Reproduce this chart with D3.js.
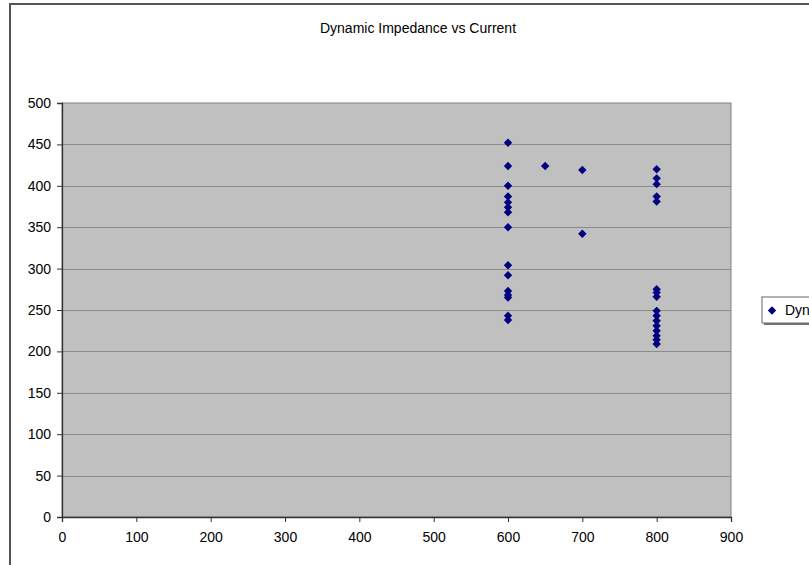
<!DOCTYPE html>
<html>
<head>
<meta charset="utf-8">
<script src="https://cdn.jsdelivr.net/npm/d3@7/dist/d3.min.js"></script>
<style>
  html, body { margin: 0; padding: 0; background: #fff; overflow: hidden; }
  svg { display: block; font-family: "Liberation Sans", Arial, sans-serif; }
</style>
</head>
<body>
<svg id="chart" width="809" height="565"></svg>
<script>
// Measured current (mA) and dynamic impedance (ohm)
const currents = [
  600, 600, 600, 600, 600, 600, 600, 600, 600, 600, 600, 600, 600, 600, 600,
  650,
  700, 700,
  800, 800, 800, 800, 800, 800, 800, 800, 800, 800, 800, 800, 800, 800, 800, 800
];
const impedances = [
  452, 424, 400, 387, 380, 374, 368, 350, 304, 292, 273, 268, 265, 243, 238,
  424,
  419, 342,
  420, 409, 402, 387, 381, 275, 271, 266, 249, 243, 237, 231, 225, 219, 214, 209
];
const xTicks = [0, 100, 200, 300, 400, 500, 600, 700, 800, 900];
const yTicks = [0, 50, 100, 150, 200, 250, 300, 350, 400, 450, 500];
const titleText = "Dynamic Impedance vs Current";
const seriesName = "Dynamic Impedance";

const svg = d3.select("#chart");

// chart area frame (extends past the visible window on the right and bottom)
svg.append("rect")
  .attr("x", 10).attr("y", 4).attr("width", 900).attr("height", 700)
  .attr("fill", "#fff").attr("stroke", "#555").attr("stroke-width", 2);

const plot = { left: 62, right: 731, top: 103, bottom: 517 };

const x = d3.scaleLinear().domain([0, 900]).range([plot.left, plot.right]);
const y = d3.scaleLinear().domain([0, 500]).range([plot.bottom, plot.top]);

// plot area
svg.append("rect")
  .attr("x", plot.left).attr("y", plot.top)
  .attr("width", plot.right - plot.left).attr("height", plot.bottom - plot.top)
  .attr("fill", "#c0c0c0").attr("stroke", "#808080").attr("stroke-width", 1);

// horizontal gridlines
svg.append("g").selectAll("line")
  .data(yTicks.filter(v => v > 0 && v < 500))
  .join("line")
  .attr("x1", plot.left).attr("x2", plot.right)
  .attr("y1", d => Math.round(y(d)) + 0.5).attr("y2", d => Math.round(y(d)) + 0.5)
  .attr("stroke", "#8a8a8a").attr("stroke-width", 1);

// axes
const yAxis = d3.axisLeft(y).tickValues(yTicks).tickSize(5).tickPadding(6).tickFormat(d3.format("d"));
const xAxis = d3.axisBottom(x).tickValues(xTicks).tickSize(5).tickPadding(10).tickFormat(d3.format("d"));

const gy = svg.append("g").attr("transform", `translate(${plot.left},0)`).call(yAxis);
const gx = svg.append("g").attr("transform", `translate(0,${plot.bottom})`).call(xAxis);

[gx, gy].forEach(g => {
  g.select(".domain").attr("stroke", "#333").attr("stroke-width", 1.3);
  g.selectAll(".tick line").attr("stroke", "#333");
  g.selectAll(".tick text").attr("fill", "#000").style("font-size", "14px")
    .style("font-family", "'Liberation Sans', Arial, sans-serif");
});

// data points as diamonds
const diamond = d3.symbol().type(d3.symbolDiamond2).size(45);
svg.append("g").selectAll("path")
  .data(currents.map((c, i) => ({ c, z: impedances[i] })))
  .join("path")
  .attr("transform", d => `translate(${x(d.c)},${y(d.z)})`)
  .attr("d", diamond)
  .attr("fill", "#000080");

// title
svg.append("text")
  .attr("x", 418).attr("y", 33)
  .attr("text-anchor", "middle")
  .style("font-size", "14px")
  .attr("fill", "#000")
  .text(titleText);

// legend
const lg = svg.append("g").attr("transform", "translate(762,297)");
lg.append("rect").attr("x", 2).attr("y", 2).attr("width", 170).attr("height", 26).attr("fill", "#777");
lg.append("rect").attr("x", 0).attr("y", 0).attr("width", 170).attr("height", 26)
  .attr("fill", "#fff").attr("stroke", "#666").attr("stroke-width", 1);
lg.append("path").attr("transform", "translate(10,13.5)").attr("d", diamond).attr("fill", "#000080");
lg.append("text").attr("x", 23).attr("y", 18).style("font-size", "14px").attr("fill", "#000").text(seriesName);
</script>
</body>
</html>
